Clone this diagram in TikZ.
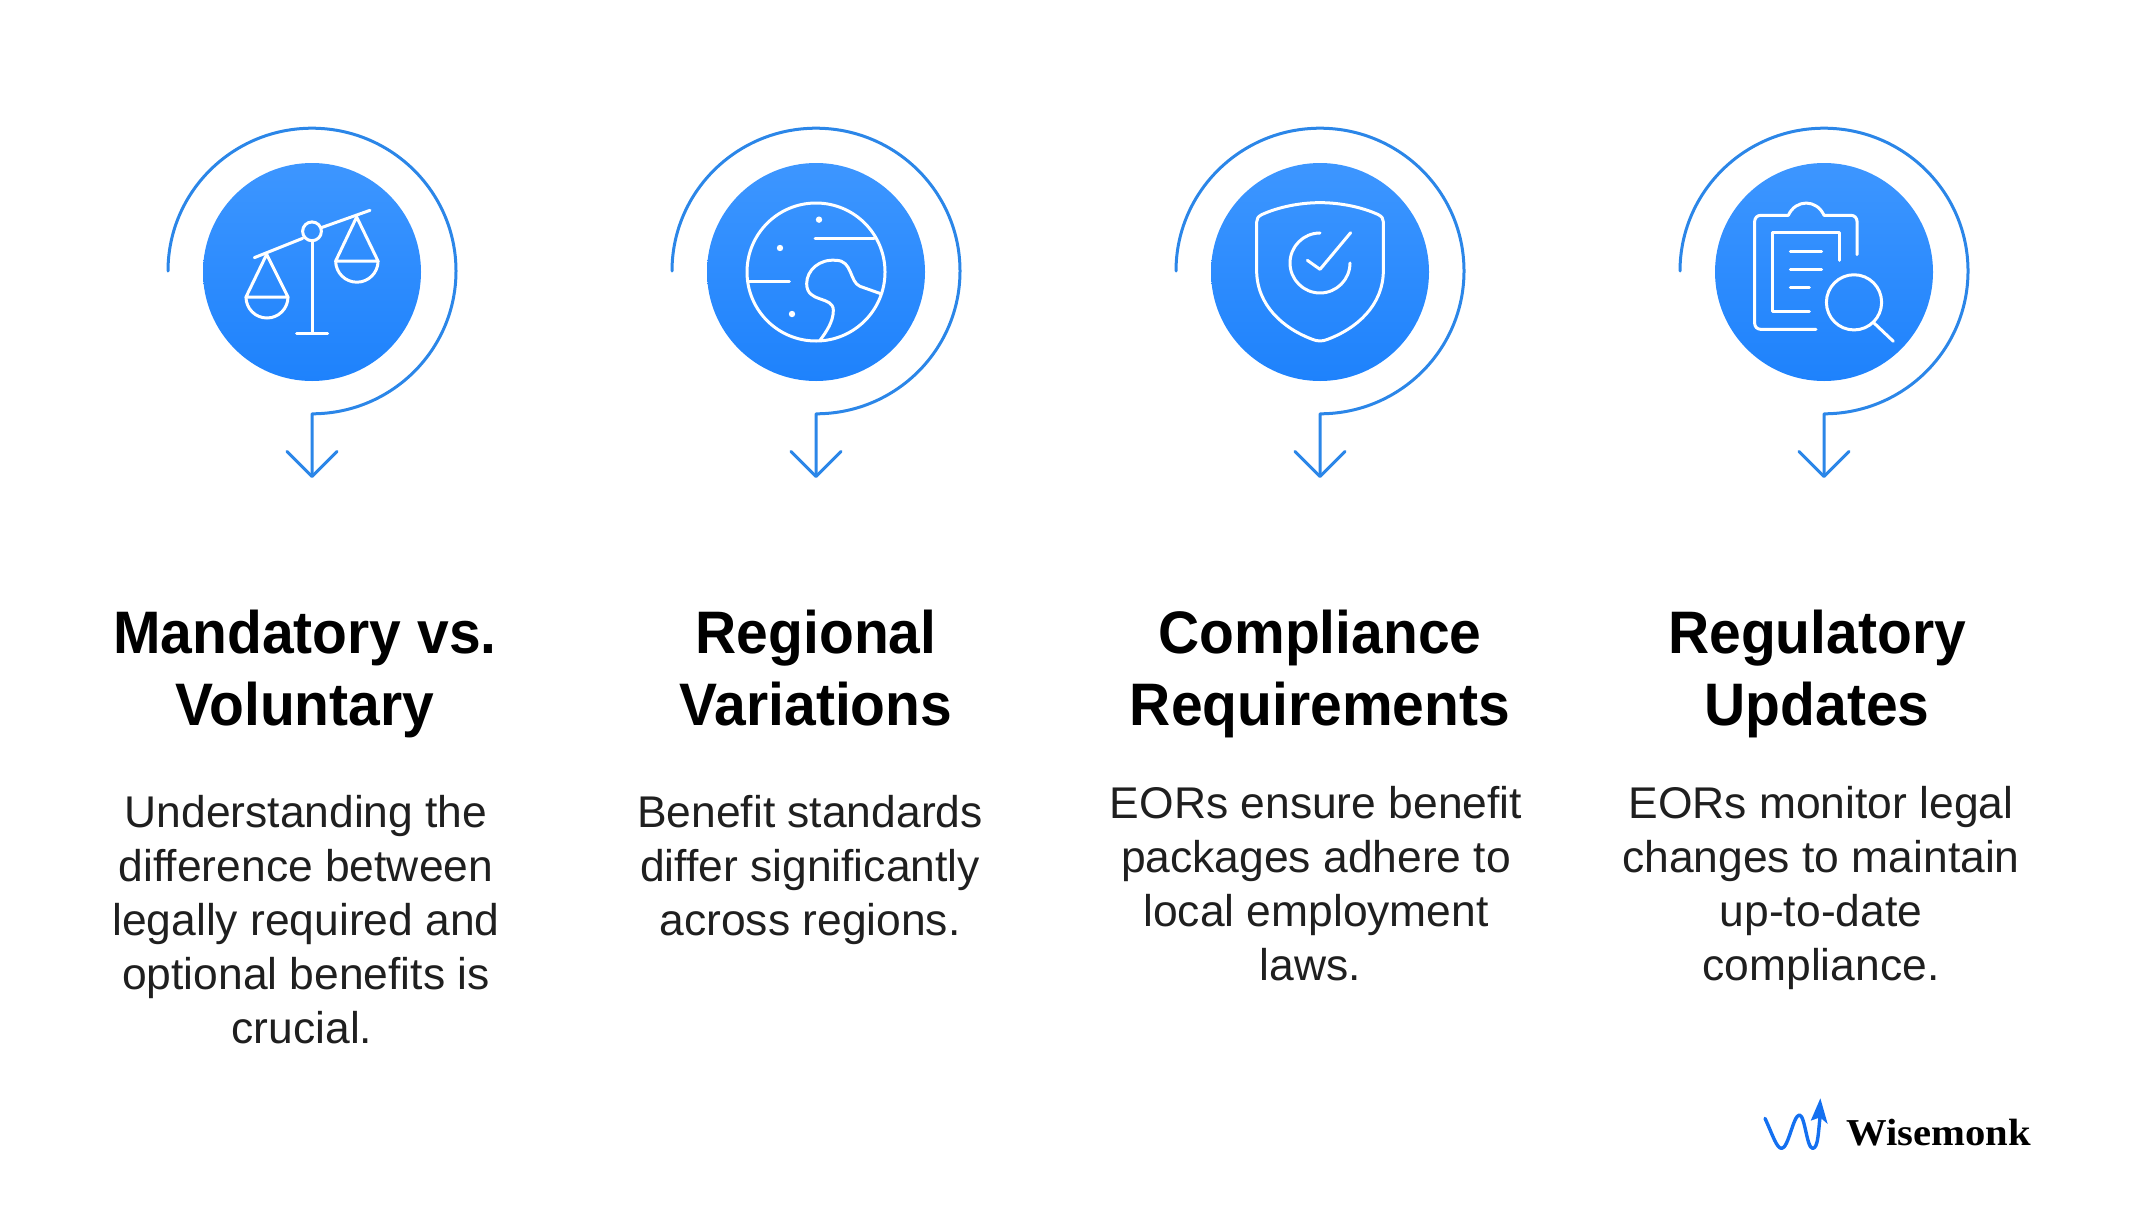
\documentclass[tikz,border=0pt]{standalone}
\usepackage{fontspec}
\setmainfont[BoldFeatures={FakeStretch=.95}]{Liberation Sans}
\newfontfamily\logofont[BoldFeatures={FakeStretch=1.07}]{Liberation Serif}
\usetikzlibrary{arrows.meta}
\definecolor{hubtop}{HTML}{3D96FF}
\definecolor{hubbottom}{HTML}{1E82FC}
\definecolor{swirlblue}{HTML}{2B86E8}
\definecolor{logoblue}{HTML}{1470F0}

\begin{document}
\begin{tikzpicture}[x=.5pt, y=-.5pt, node distance=252pt, line cap=round, line join=round,
    hub node/.style={circle, minimum size=109pt, inner sep=0pt, top color=hubtop, bottom color=hubbottom},
    title node/.style={font=\fontsize{30}{36}\selectfont\bfseries, align=center, inner sep=0pt, anchor=north},
    body node/.style={font=\fontsize{22.2}{27}\selectfont, align=center, inner sep=0pt, anchor=north, text=black!88},
    swirl/.style={draw=swirlblue, line width=1.5pt},
    icon/.style={draw=white, line width=1.5pt, x=.1667pt, y=-.1667pt}]
\useasboundingbox (0,0) rectangle (2134,1231);
\node[hub node](hub1) at (312,272){};
\foreach \s/\t in {hub2/hub1, hub3/hub2, hub4/hub3}{
    \node[hub node] (\s) [right of = \t] {};}
% swirl with arrow under each hub
\foreach \s in {hub1, hub2, hub3, hub4}{
    \coordinate (\s tip) at ([yshift=-103pt]\s);
    \draw[swirl, -{Straight Barb[length=12.5pt, width=25pt, round]}] ([shift={(-72pt,.5pt)}]\s) arc[start angle=180, end angle=-90, x radius=72pt, y radius=71.4pt] -- (\s tip);
}
% scales
\begin{scope}[shift={(hub1)}, icon]
\draw (-173,-43) -- (-28,-101);
\draw (28,-133) -- (174,-185);
\draw (0,-122) circle[radius=4.7pt];
\draw (0,-95) -- (0,183);
\draw (-46,183) -- (47,183);
\draw (-136,-53) -- (-198,75) -- (-72,75) -- cycle;
\draw (-198,75) arc[start angle=180, end angle=360, radius=10.5pt];
\draw (134,-165) -- (71,-33) -- (198,-33) -- cycle;
\draw (71,-33) arc[start angle=180, end angle=360, radius=10.6pt];
\end{scope}
% globe
\begin{scope}[shift={(hub2)}, icon]
\draw (0,0) circle[radius=34.5pt];
\fill[white] (9,-157) circle[radius=1.6pt] (-108,-72) circle[radius=1.6pt] (-72,126) circle[radius=1.6pt];
\draw (-3,-99) -- (174,-99);
\draw (-200,28) -- (-80,28);
\draw (194,65) -- (132,43) .. controls (100,30) and (110,-35) .. (60,-35) .. controls (10,-40) and (-28,-5) .. (-28,35) .. controls (-28,95) and (52,70) .. (52,115) .. controls (52,150) and (30,180) .. (12,205);
\end{scope}
% shield
\begin{scope}[shift={(hub3)}, icon]
\draw (0,-208) .. controls (-60,-208) and (-125,-195) .. (-175,-172) .. controls (-186,-166) and (-190,-160) .. (-190,-150) -- (-190,-5) .. controls (-190,100) and (-110,170) .. (-20,203) .. controls (-8,208) and (8,208) .. (20,203) .. controls (110,170) and (190,100) .. (190,-5) -- (190,-150) .. controls (190,-160) and (186,-166) .. (175,-172) .. controls (125,-195) and (60,-208) .. (0,-208) -- cycle;
\draw (0,-117) arc[start angle=90, end angle=360, radius=15pt];
\draw (-38,-35) -- (0,-8) -- (92,-118);
\end{scope}
% clipboard
\begin{scope}[shift={(hub4)}, icon]
\draw (-24,172) -- (-190,172) .. controls (-200,172) and (-208,164) .. (-208,154) -- (-208,-152) .. controls (-208,-162) and (-200,-170) .. (-190,-170) -- (-107,-170) .. controls (-85,-219) and (-22,-219) .. (0,-170) -- (81,-170) .. controls (91,-170) and (99,-162) .. (99,-152) -- (99,-52);
\draw (45,-35) -- (45,-117) -- (-154,-117) -- (-154,118) -- (-44,118);
\draw (-101,-62) -- (-7,-62) (-101,-8) -- (-7,-8) (-101,46) -- (-44,46);
\draw (90,91) circle[radius=13.8pt];
\draw (150,153) -- (208,208);
\end{scope}
% titles
\foreach \s/\x/\t in {title1/305/{Mandatory vs.\\Voluntary}, title2/816/{Regional\\Variations}, title3/1320/{Compliance\\Requirements}, title4/1817/{Regulatory\\Updates}}{
    \node[title node] (\s) at (\x,610) {\t};}
% body text
\foreach \s/\x/\y/\t in {body1/306/795/{Understanding the\\difference between\\legally required and\\optional benefits is\\crucial.\kern4pt}, body2/810/795/{Benefit standards\\differ significantly\\across regions.}, body3/1316/786/{EORs ensure benefit\\packages adhere to\\local employment\\laws.\kern5.5pt}, body4/1821/786/{EORs monitor legal\\changes to maintain\\up-to-date\\compliance.}}{
    \node[body node] (\s) at (\x,\y) {\t};}
% logo
\begin{scope}[shift={(1740,1080)}, x=.1667pt, y=-.1667pt]
\draw[logoblue, line width=1.7pt] (75,115) .. controls (100,170) and (110,205) .. (125,205) .. controls (145,205) and (160,105) .. (178,105) .. controls (195,105) and (200,205) .. (218,205) .. controls (235,205) and (235,150) .. (240,112);
\fill[logoblue] (241,55) -- (263,132) -- (240,112) -- (212,122) -- cycle;
\end{scope}
\node[font=\logofont\fontsize{19}{19}\selectfont\bfseries, inner sep=0pt, anchor=base west] (logo) at (1846,1145) {Wisemonk};
\end{tikzpicture}
\end{document}
